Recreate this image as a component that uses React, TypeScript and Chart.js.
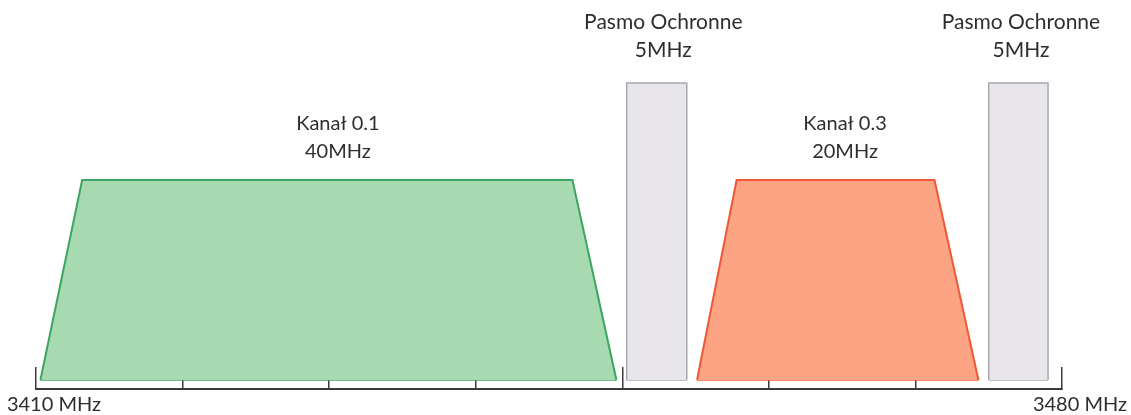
import React, { useEffect, useRef } from "react";
import { Chart, registerables } from "chart.js";

Chart.register(...registerables);

// Frequency axis (MHz)
const axisMin = 3410;
const axisMax = 3480;
const tickValues = [3410, 3420, 3430, 3440, 3450, 3460, 3470, 3480];
const tickLabels = ["3410 MHz", "", "", "", "", "", "", "3480 MHz"];

// Channel 0.1 trapezoid (frequency, relative level)
const channel1X = [3410.3, 3413.15, 3446.6, 3449.6];
const channel1Y = [0, 100, 100, 0];
// Channel 0.3 trapezoid
const channel2X = [3455.1, 3457.8, 3471.3, 3474.3];
const channel2Y = [0, 100, 100, 0];
// Guard bands
const guard1X = [3450.3, 3450.3, 3454.4, 3454.4];
const guard2X = [3475.0, 3475.0, 3479.05, 3479.05];
const guardY = [0, 148.5, 148.5, 0];

// Labels
const channelTitles = ["Kanał 0.1", "Kanał 0.3"];
const channelWidths = ["40MHz", "20MHz"];
const channelLabelX = [3430.6, 3465.2];
const channelLevel = 100;
const guardTitles = ["Pasmo Ochronne", "Pasmo Ochronne"];
const guardWidths = ["5MHz", "5MHz"];
const guardLabelX = [3452.8, 3477.2];
const guardLevel = 148.5;

const FONT = "Lato, 'Open Sans', sans-serif";
const TEXT = "#2e2e2e";

const toPoints = (xs: number[], ys: number[]) => xs.map((x, i) => ({ x, y: ys[i] }));
const baseEdge = (xs: number[], ys: number[]) => [
  { x: xs[0], y: ys[0] },
  { x: xs[xs.length - 1], y: ys[ys.length - 1] },
];

const labelPlugin = {
  id: "bandLabels",
  afterDatasetsDraw(chart: any) {
    const { ctx, scales } = chart;
    const x = scales.x;
    const y = scales.y;
    ctx.save();
    ctx.fillStyle = TEXT;
    ctx.textAlign = "center";
    ctx.textBaseline = "alphabetic";
    ctx.font = `21px ${FONT}`;
    guardLabelX.forEach((v, i) => {
      const px = x.getPixelForValue(v);
      const top = y.getPixelForValue(guardLevel);
      ctx.fillText(guardTitles[i], px, top - 54);
      ctx.fillText(guardWidths[i], px, top - 26);
    });
    ctx.font = `20px ${FONT}`;
    channelLabelX.forEach((v, i) => {
      const px = x.getPixelForValue(v);
      const top = y.getPixelForValue(channelLevel);
      ctx.fillText(channelTitles[i], px, top - 50);
      ctx.fillText(channelWidths[i], px, top - 22);
    });
    ctx.restore();
  },
};

export default function App() {
  const ref = useRef<HTMLCanvasElement | null>(null);

  useEffect(() => {
    if (!ref.current) return;
    const shape = (xs: number[], ys: number[], fill: string, stroke: string, bw: number) => ({
      data: toPoints(xs, ys),
      backgroundColor: fill,
      borderColor: stroke,
      borderWidth: bw,
      fill: "origin",
      pointRadius: 0,
      tension: 0,
    });
    const edge = (xs: number[], ys: number[], stroke: string, bw: number) => ({
      data: baseEdge(xs, ys),
      borderColor: stroke,
      borderWidth: bw,
      fill: false,
      pointRadius: 0,
    });
    const chart = new Chart(ref.current, {
      type: "line",
      data: {
        datasets: [
          shape(channel1X, channel1Y, "#a7dab1", "#3aa65e", 2),
          edge(channel1X, channel1Y, "#3aa65e", 1.5),
          shape(guard1X, guardY, "#e8e6ea", "#a9a7ae", 1.5),
          edge(guard1X, guardY, "#a9a7ae", 1.5),
          shape(channel2X, channel2Y, "#fba383", "#ef5837", 2),
          edge(channel2X, channel2Y, "#ef5837", 1.5),
          shape(guard2X, guardY, "#e8e6ea", "#a9a7ae", 1.5),
          edge(guard2X, guardY, "#a9a7ae", 1.5),
        ] as any,
      },
      options: {
        animation: false,
        responsive: false,
        devicePixelRatio: 1,
        layout: { padding: { left: 36, right: 69, top: 0, bottom: 0 } },
        plugins: {
          legend: { display: false },
          tooltip: { enabled: false },
          title: { display: false },
          filler: { propagate: false },
        } as any,
        scales: {
          x: {
            type: "linear",
            position: "bottom",
            min: axisMin,
            max: axisMax,
            afterBuildTicks: (s: any) => {
              s.ticks = tickValues.map((v) => ({ value: v }));
            },
            afterFit: (s: any) => {
              s.paddingLeft = 0;
              s.paddingRight = 0;
              s.height = 26;
            },
            grid: {
              drawOnChartArea: false,
              drawTicks: true,
              tickLength: -22,
              color: "#3a3a3a",
              lineWidth: 1.5,
            },
            border: { display: true, color: "#3a3a3a", width: 2 },
            ticks: {
              autoSkip: false,
              maxRotation: 0,
              padding: 26,
              labelOffset: 18,
              color: TEXT,
              font: { family: FONT, size: 20 },
              callback: (_v: any, i: number) => tickLabels[i],
            },
          },
          y: {
            type: "linear",
            display: false,
            min: -4.5,
            max: 190,
          },
        },
      },
      plugins: [labelPlugin],
    });
    return () => chart.destroy();
  }, []);

  return (
    <div style={{ position: "fixed", left: 0, top: 0, width: 1131, height: 415, background: "#fff" }}>
      <canvas ref={ref} width={1131} height={415} style={{ width: 1131, height: 415 }} />
    </div>
  );
}
